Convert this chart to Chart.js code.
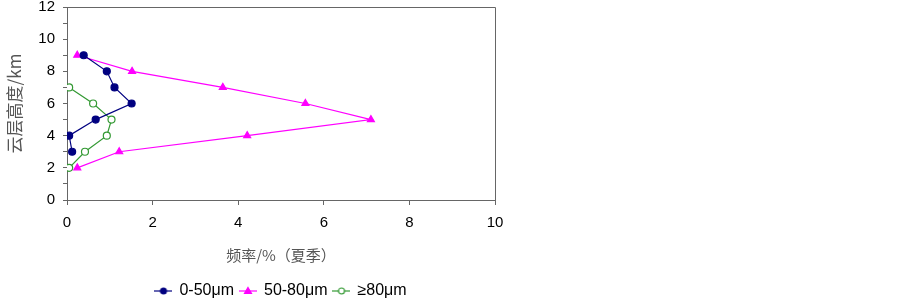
<!DOCTYPE html>
<html>
<head>
<meta charset="utf-8">
<script src="https://cdn.jsdelivr.net/npm/chart.js@4"></script>
<style>
  body { margin: 0; background: #fff; }
  #wrap { width: 903px; height: 301px; }
</style>
</head>
<body>
<div id="wrap"><canvas id="cloudChart"></canvas></div>
<script>
const heights = [2, 3, 4, 5, 6, 7, 8, 9];
const small = [null, 0.12, 0.05, 0.67, 1.51, 1.11, 0.93, 0.39];
const medium = [0.24, 1.22, 4.21, 7.10, 5.57, 3.64, 1.52, 0.24];
const large = [0.05, 0.42, 0.93, 1.04, 0.61, 0.05, null, null];
const seriesNames = ['0-50μm', '50-80μm', '≥80μm'];

function toPoints(vals) {
  const pts = [];
  vals.forEach((v, i) => { if (v !== null) pts.push({ x: v, y: heights[i] }); });
  return pts;
}

// little "line + marker" icons for the legend
function legendIcon(color, style, fill) {
  const c = document.createElement('canvas');
  c.width = 18; c.height = 10;
  const g = c.getContext('2d');
  g.strokeStyle = color; g.lineWidth = 1.2;
  g.beginPath(); g.moveTo(0, 5); g.lineTo(18, 5); g.stroke();
  g.fillStyle = fill;
  g.beginPath();
  if (style === 'triangle') { g.moveTo(9, 1.5); g.lineTo(12.5, 7.5); g.lineTo(5.5, 7.5); g.closePath(); }
  else { g.arc(9, 5, 3, 0, Math.PI * 2); }
  g.fill(); g.stroke();
  return c;
}

const ctx = document.getElementById('cloudChart').getContext('2d');
const chart = new Chart(ctx, {
  type: 'scatter',
  data: {
    datasets: [{
      label: seriesNames[0],
      data: toPoints(small),
      borderColor: '#000080',
      backgroundColor: '#000080',
      pointStyle: 'circle',
      pointRadius: 3.5,
      borderWidth: 1.2,
      legendIcon: legendIcon('#000080', 'circle', '#000080')
    }, {
      label: seriesNames[1],
      data: toPoints(medium),
      borderColor: '#ff00ff',
      backgroundColor: '#ff00ff',
      pointStyle: 'triangle',
      pointRadius: 4,
      borderWidth: 1.2,
      legendIcon: legendIcon('#ff00ff', 'triangle', '#ff00ff')
    }, {
      label: seriesNames[2],
      data: toPoints(large),
      borderColor: '#339933',
      backgroundColor: '#ffffff',
      pointStyle: 'circle',
      pointRadius: 3.5,
      borderWidth: 1.2,
      legendIcon: legendIcon('#339933', 'circle', '#ffffff')
    }]
  },
  options: {
    responsive: true,
    maintainAspectRatio: false,
    animation: false,
    showLine: true,
    layout: { padding: { left: 0, right: 408, top: 7, bottom: -8 } },
    plugins: {
      tooltip: { enabled: false },
      legend: {
        position: 'bottom',
        fullSize: false,
        labels: {
          usePointStyle: true,
          color: '#000',
          font: { family: 'Liberation Sans, Arial', size: 16 },
          padding: 6,
          boxWidth: 18,
          generateLabels: (ch) => ch.data.datasets.map((ds, i) => ({
            text: ds.label,
            pointStyle: ds.legendIcon,
            datasetIndex: i,
            fillStyle: ds.backgroundColor,
            strokeStyle: ds.borderColor,
            lineWidth: 0,
            fontColor: '#000'
          }))
        }
      }
    },
    scales: {
      x: {
        type: 'linear',
        min: 0, max: 10,
        ticks: { stepSize: 2, color: '#000', padding: 9, font: { family: 'Liberation Sans, Arial', size: 15 } },
        grid: { drawOnChartArea: false, tickLength: 5, color: '#666' },
        border: { color: '#666', width: 1 },
        title: {
          display: true, text: '频率/%（夏季）', color: '#555',
          font: { family: 'Noto Sans CJK SC', size: 15 }, padding: { top: 10, bottom: 13 }
        },
        afterFit: (s) => { s.height = 77; }
      },
      y: {
        min: 0, max: 12,
        ticks: {
          stepSize: 1, color: '#000', padding: 8, autoSkip: false,
          font: { family: 'Liberation Sans, Arial', size: 15, lineHeight: 1 },
          callback: (v) => (v % 2 === 0 ? v : '')
        },
        grid: { drawOnChartArea: false, tickLength: 4, color: '#666' },
        border: { color: '#666', width: 1 },
        title: {
          display: true, text: '云层高度/km', color: '#555',
          font: { family: 'Noto Sans CJK SC', size: 17 }, padding: { top: 4, bottom: 0 }
        },
        afterFit: (s) => { s.width = 67; s.paddingTop = 0; s.paddingBottom = 0; }
      }
    }
  },
  plugins: [{
    id: 'boxFrame',
    afterDraw(ch) {
      const a = ch.chartArea, g = ch.ctx;
      g.save();
      g.strokeStyle = '#666'; g.lineWidth = 1;
      g.beginPath();
      g.moveTo(a.left, a.top + 0.5); g.lineTo(a.right + 0.5, a.top + 0.5); g.lineTo(a.right + 0.5, a.bottom);
      g.stroke();
      g.restore();
    }
  }]
});
</script>
</body>
</html>
